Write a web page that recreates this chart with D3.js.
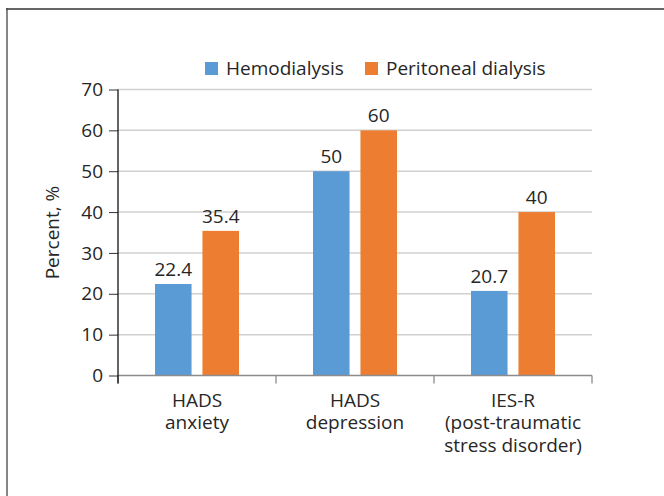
<!DOCTYPE html>
<html lang="en">
<head>
    <meta charset="UTF-8">
    <title>Anxiety, depression and PTSD by dialysis type</title>
    <style>
        body {
            margin: 0;
            padding: 0;
            background-color: #fff;
        }
        svg text {
            font-family: "Open Sans", "Noto Sans", sans-serif;
            font-size: 19px;
            fill: #262626;
        }
        .grid line {
            stroke: #d0d0d0;
            stroke-width: 1.5;
        }
    </style>
</head>
<body>
    <svg width="664" height="496"></svg>

    <script src="https://d3js.org/d3.v7.min.js"></script>
    <script>
        // data
        const categories = [
            ["HADS", "anxiety"],
            ["HADS", "depression"],
            ["IES-R", "(post-traumatic", "stress disorder)"]
        ];
        const seriesNames = ["Hemodialysis", "Peritoneal dialysis"];
        const hemodialysis = [22.4, 50, 20.7];
        const peritoneal = [35.4, 60, 40];
        const yTicks = [0, 10, 20, 30, 40, 50, 60, 70];
        const colors = ["#5b9bd5", "#ed7d31"];

        const values = [hemodialysis, peritoneal];
        const catKeys = categories.map(c => c.join(" "));

        const svg = d3.select("svg");
        const plotLeft = 118, plotRight = 592, plotTop = 89.5, plotBottom = 375.5;

        // outer frame (top and left edges visible)
        svg.append("line")
            .attr("x1", 6).attr("x2", 664).attr("y1", 9).attr("y2", 9)
            .attr("stroke", "#666").attr("stroke-width", 2);
        svg.append("line")
            .attr("x1", 7).attr("x2", 7).attr("y1", 8).attr("y2", 496)
            .attr("stroke", "#444").attr("stroke-width", 1.3);

        const x0 = d3.scaleBand()
            .domain(catKeys)
            .range([plotLeft, plotRight])
            .padding(0);

        const x1 = d3.scaleBand()
            .domain(seriesNames)
            .range([0, x0.bandwidth()])
            .paddingInner(0.23)
            .paddingOuter(0.78);

        const y = d3.scaleLinear()
            .domain([0, 70])
            .range([plotBottom, plotTop]);

        // gridlines
        svg.append("g")
            .attr("class", "grid")
            .selectAll("line")
            .data(yTicks.filter(d => d > 0))
            .join("line")
            .attr("x1", plotLeft).attr("x2", plotRight)
            .attr("y1", d => y(d)).attr("y2", d => y(d));

        // bars
        const groups = svg.append("g")
            .selectAll("g")
            .data(catKeys)
            .join("g")
            .attr("transform", d => `translate(${x0(d)},0)`);

        groups.selectAll("rect")
            .data((d, i) => seriesNames.map((s, j) => ({s, j, v: values[j][i]})))
            .join("rect")
            .attr("x", d => x1(d.s))
            .attr("y", d => y(d.v))
            .attr("width", x1.bandwidth())
            .attr("height", d => y(0) - y(d.v))
            .attr("fill", d => colors[d.j]);

        groups.selectAll("text.val")
            .data((d, i) => seriesNames.map((s, j) => ({s, j, v: values[j][i]})))
            .join("text")
            .attr("class", "val")
            .attr("x", d => x1(d.s) + x1.bandwidth() / 2)
            .attr("y", d => y(d.v) - 8)
            .attr("text-anchor", "middle")
            .text(d => d.v);

        // x axis
        const xAxis = svg.append("g")
            .attr("transform", `translate(0,${plotBottom})`);
        xAxis.append("line")
            .attr("x1", plotLeft).attr("x2", plotRight)
            .attr("stroke", "#8c8c8c").attr("stroke-width", 1.5);
        xAxis.selectAll("line.tick")
            .data(catKeys.map(k => x0(k)).concat([plotRight]))
            .join("line")
            .attr("class", "tick")
            .attr("x1", d => d).attr("x2", d => d)
            .attr("y1", 0).attr("y2", 8)
            .attr("stroke", "#8c8c8c").attr("stroke-width", 1.3);

        const catLabels = xAxis.selectAll("text")
            .data(categories)
            .join("text")
            .attr("text-anchor", "middle")
            .attr("transform", (d, i) => `translate(${x0(catKeys[i]) + x0.bandwidth() / 2},31)`);
        catLabels.selectAll("tspan")
            .data(d => d)
            .join("tspan")
            .attr("x", 0)
            .attr("y", (d, i) => i * 22.5)
            .text(d => d);

        // y axis
        const yAxis = svg.append("g")
            .attr("transform", `translate(${plotLeft},0)`)
            .call(d3.axisLeft(y).tickValues(yTicks).tickSize(9).tickPadding(6));
        yAxis.select(".domain").remove();
        yAxis.selectAll(".tick line").attr("stroke", "#333");
        yAxis.selectAll(".tick text")
            .style("font-size", "19px")
            .style("font-family", "'Open Sans', sans-serif")
            .attr("fill", "#262626");
        yAxis.append("line")
            .attr("y1", plotTop).attr("y2", plotBottom + 8)
            .attr("stroke", "#111").attr("stroke-width", 1.3);

        svg.append("text")
            .attr("transform", `translate(59,${(plotTop + plotBottom) / 2}) rotate(-90)`)
            .attr("text-anchor", "middle")
            .text("Percent, %");

        // legend
        const legendX = [205, 365];
        const legend = svg.append("g")
            .selectAll("g")
            .data(seriesNames)
            .join("g")
            .attr("transform", (d, i) => `translate(${legendX[i]},62)`);
        legend.append("rect")
            .attr("width", 13).attr("height", 13)
            .attr("fill", (d, i) => colors[i]);
        legend.append("text")
            .attr("x", 21)
            .attr("y", 13)
            .text(d => d);
    </script>
</body>
</html>
